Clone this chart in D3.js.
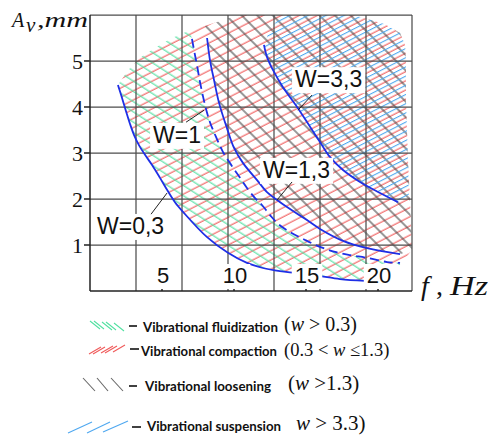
<!DOCTYPE html>
<head>
<meta charset="utf-8">
<title>Vibration modes</title>
<style>
body {
  margin: 0;
  padding: 0;
  background: #fff;
}
.serif { font-family: "Liberation Serif", "DejaVu Serif", serif; }
.sans { font-family: "Liberation Sans", Arial, sans-serif; }
.leg { font-family: Lato, "Open Sans", sans-serif; font-weight: bold; font-size: 14px; }
</style>
</head>
<body>
<svg id="chart" width="488" height="436"></svg>
<script src="https://d3js.org/d3.v7.min.js"></script>
<script>

// axis values
var xMax = 22.36, yMax = 6
var xTicks = [5, 10, 15, 20]
var yTicks = [1, 2, 3, 4, 5]
var xGridCols = 7

// boundary curves, f (Hz) vs A (mm)
var w03 = [[1.94,4.48],[2.22,4.20],[2.50,3.91],[2.78,3.63],[3.06,3.39],[3.40,3.17],[3.82,2.96],[4.31,2.74],[4.86,2.46],[5.35,2.20],[5.90,1.93],[6.46,1.72],[8.13,1.17],[9.58,0.83],[10.90,0.61],[12.01,0.50],[13.19,0.43],[14.24,0.39],[15.83,0.33],[17.36,0.26],[19.10,0.22]]
var w1 = [[7.08,5.48],[7.29,5.13],[7.43,4.91],[7.64,4.54],[7.99,4.04],[8.33,3.67],[8.75,3.35],[9.24,3.02],[9.72,2.78],[10.42,2.46],[10.90,2.24],[11.46,2.02],[11.94,1.87],[12.50,1.65],[13.06,1.46],[13.89,1.28],[14.93,1.11],[15.97,0.96],[17.01,0.85],[18.06,0.78],[19.24,0.72],[20.63,0.63],[21.53,0.61]]
var w13 = [[8.13,5.50],[8.33,5.02],[8.61,4.59],[8.96,4.09],[9.51,3.54],[10.0,3.11],[10.63,2.78],[11.60,2.41],[12.29,2.15],[12.99,1.98],[13.89,1.78],[14.93,1.57],[15.97,1.35],[17.57,1.09],[19.24,0.93],[21.53,0.80]]
var w33 = [[12.08,5.35],[12.29,5.09],[12.71,4.80],[13.40,4.43],[14.38,4.00],[15.28,3.57],[15.97,3.24],[16.67,2.91],[17.57,2.63],[18.75,2.37],[20.14,2.13],[21.39,1.93]]

// outer edge of the hatched area, from the start of W=0.3 round to its end
var envelope = [[1.94,4.48],[2.64,4.80],[3.47,5.07],[4.51,5.28],[5.69,5.50],[6.94,5.67],[8.33,5.80],[9.93,5.96],[11.11,6.07],[17.36,6.07],[19.10,5.93],[20.49,5.80],[21.53,5.61],[21.88,5.35],[21.94,5.02],[21.94,4.15],[22.08,2.85],[22.22,1.98],[22.36,0.89],[21.53,0.57],[20.49,0.39],[19.10,0.22]]

var curveLabels = [
  { text: 'W=1',   x: 4.38,  y: 3.22, from: [6.67, 3.67],  to: [7.92, 3.93] },
  { text: 'W=3,3', x: 14.24, y: 4.43, from: [15.42, 4.26], to: [14.44, 3.93] },
  { text: 'W=1,3', x: 12.01, y: 2.46, from: [14.03, 2.37], to: [12.99, 1.98] },
  { text: 'W=0,3', x: 0.49,  y: 1.24, from: [4.24, 1.67],  to: [5.35, 2.13] }
]

var svg = d3.select('#chart')
var x = d3.scaleLinear().domain([0, xMax]).range([90, 412])
var y = d3.scaleLinear().domain([0, yMax]).range([291, 15])

var defs = svg.append('defs')

function hatch(id, color, angle, gap, off) {
  var p = defs.append('pattern')
    .attr('id', id)
    .attr('patternUnits', 'userSpaceOnUse')
    .attr('width', 20).attr('height', gap)
    .attr('patternTransform', 'rotate(' + angle + ')')
  p.append('line')
    .attr('x1', 0).attr('x2', 20)
    .attr('y1', off).attr('y2', off)
    .attr('stroke', color).attr('stroke-width', 1.1)
}
hatch('h-red', '#f05a5a', -27, 8.2, 2)
hatch('h-green', '#4fe0a0', 33, 8.6, 4)
hatch('h-black', '#444', 45, 11, 5)
hatch('h-blue', '#4fa8f0', -27, 8.2, 6)

defs.append('clipPath').attr('id', 'frame')
  .append('rect')
  .attr('x', x(0)).attr('y', y(yMax))
  .attr('width', x(xMax) - x(0)).attr('height', y(0) - y(yMax))

var poly = d3.line().x(function(d) { return x(d[0]) }).y(function(d) { return y(d[1]) })
function rev(a) { return a.slice().reverse() }
function pick(idx) { return idx.map(function(i) { return envelope[i] }) }

var regions = [
  { fill: 'h-red',   pts: envelope.concat(rev(w03)) },
  { fill: 'h-green', pts: w03.concat(pick([20, 19]), rev(w1), pick([5, 4, 3, 2, 1])) },
  { fill: 'h-black', pts: w13.concat(pick([18, 17, 16, 15, 14, 13, 12, 11, 10, 9, 8, 7]), [[8.0, 5.76]]) },
  { fill: 'h-blue',  pts: w33.concat([[22.15, 2.1]], pick([16, 15, 14, 13, 12, 11, 10, 9]), [[13.54, 6.07], [12.5, 5.7]]) }
]

var hatchG = svg.append('g').attr('clip-path', 'url(#frame)')
hatchG.selectAll('path')
  .data(regions)
  .enter().append('path')
    .attr('d', function(d) { return poly(d.pts) + 'Z' })
    .attr('fill', function(d) { return 'url(#' + d.fill + ')' })
    .attr('stroke', 'none')

// grid
var grid = svg.append('g').attr('stroke', '#4d4d4d').attr('stroke-width', 1.25)
grid.selectAll('.gx')
  .data(d3.range(1, xGridCols + 1))
  .enter().append('line')
    .attr('x1', function(i) { return x(xMax * i / xGridCols) })
    .attr('x2', function(i) { return x(xMax * i / xGridCols) })
    .attr('y1', y(0)).attr('y2', y(yMax))
grid.selectAll('.gy')
  .data(d3.range(1, yMax + 1))
  .enter().append('line')
    .attr('x1', x(0)).attr('x2', x(xMax))
    .attr('y1', function(d) { return y(d) })
    .attr('y2', function(d) { return y(d) })

// curves
var smooth = d3.line()
  .x(function(d) { return x(d[0]) })
  .y(function(d) { return y(d[1]) })
  .curve(d3.curveCatmullRom)

var curves = [
  { pts: w03, dash: null },
  { pts: w1, dash: '9,5' },
  { pts: w13, dash: null },
  { pts: w33, dash: null }
]
svg.append('g').selectAll('path')
  .data(curves)
  .enter().append('path')
    .attr('d', function(d) { return smooth(d.pts) })
    .attr('fill', 'none')
    .attr('stroke', '#1e2fe6')
    .attr('stroke-width', 1.8)
    .attr('stroke-dasharray', function(d) { return d.dash })

// axes
var ax = svg.append('g').attr('stroke', '#222').attr('stroke-width', 1.5)
ax.append('line').attr('x1', x(0)).attr('x2', x(0)).attr('y1', y(0)).attr('y2', y(yMax))
ax.append('line').attr('x1', x(0)).attr('x2', x(xMax)).attr('y1', y(0)).attr('y2', y(0))
ax.selectAll('.ty')
  .data(yTicks)
  .enter().append('line')
    .attr('x1', x(0) - 6).attr('x2', x(0))
    .attr('y1', function(d) { return y(d) }).attr('y2', function(d) { return y(d) })
ax.selectAll('.tx')
  .data(xTicks)
  .enter().append('line')
    .attr('x1', function(d) { return x(d) }).attr('x2', function(d) { return x(d) })
    .attr('y1', y(0) - 5).attr('y2', y(0))

svg.append('g').selectAll('text')
  .data(yTicks)
  .enter().append('text')
    .attr('class', 'serif')
    .attr('x', x(0) - 7)
    .attr('y', function(d) { return y(d) + 8 })
    .attr('text-anchor', 'end')
    .attr('font-size', 22)
    .attr('fill', '#111')
    .text(function(d) { return d })

// labels with white boxes
function boxed(g, sel) {
  sel.each(function() {
    var b = this.getBBox()
    g.insert('rect', 'text')
      .attr('x', b.x - 3).attr('y', b.y + 1)
      .attr('width', b.width + 6).attr('height', b.height)
      .attr('fill', '#fff')
  })
}

var xl = svg.append('g')
var xt = xl.selectAll('text')
  .data(xTicks)
  .enter().append('text')
    .attr('class', 'sans')
    .attr('x', function(d) { return x(d) + 1 })
    .attr('y', y(0) - 8)
    .attr('text-anchor', 'middle')
    .attr('font-size', 22)
    .attr('fill', '#111')
    .text(function(d) { return d })
boxed(xl, xt)

var lg = svg.append('g')
var lt = lg.selectAll('text')
  .data(curveLabels)
  .enter().append('text')
    .attr('class', 'sans')
    .attr('x', function(d) { return x(d.x) })
    .attr('y', function(d) { return y(d.y) })
    .attr('font-size', 23)
    .attr('fill', '#111')
    .text(function(d) { return d.text })
boxed(lg, lt)
lg.selectAll('line')
  .data(curveLabels)
  .enter().append('line')
    .attr('x1', function(d) { return x(d.from[0]) }).attr('y1', function(d) { return y(d.from[1]) })
    .attr('x2', function(d) { return x(d.to[0]) }).attr('y2', function(d) { return y(d.to[1]) })
    .attr('stroke', '#222').attr('stroke-width', 1)

// axis titles
var tt = svg.append('g').attr('class', 'serif').attr('font-style', 'italic').attr('fill', '#111')
tt.append('text').attr('x', 12).attr('y', 27).attr('font-size', 20).text('A')
tt.append('text').attr('x', 26).attr('y', 32).attr('font-size', 21).text('v')
tt.append('text').attr('x', 37).attr('y', 27).attr('font-size', 22)
  .attr('textLength', 51).attr('lengthAdjust', 'spacingAndGlyphs').text(',mm')
tt.append('text').attr('x', 421).attr('y', 295).attr('font-size', 28).text('f')
tt.append('text').attr('x', 436).attr('y', 295).attr('font-size', 28).attr('font-style', 'normal').text(',')
tt.append('text').attr('x', 450).attr('y', 295).attr('font-size', 27)
  .attr('textLength', 38).attr('lengthAdjust', 'spacingAndGlyphs').text('Hz')

// legend
var legend = [
  { name: 'Vibrational fluidization', math: ['(', 'w', ' > 0.3)'], color: '#4fe0a0' },
  { name: 'Vibrational compaction', math: ['(0.3 < ', 'w', ' \u22641.3)'], color: '#f05a5a' },
  { name: 'Vibrational loosening', math: ['(', 'w', ' >1.3)'], color: '#666' },
  { name: 'Vibrational suspension', math: ['', 'w', ' > 3.3)'], color: '#4fa8f0' }
]
var legPos = [
  { tx: 143, tl: 135, base: 332, dash: [129, 137, 326], mx: 284, fs: 20, mb: 331 },
  { tx: 141, tl: 136, base: 356, dash: [130, 139, 349], mx: 284, fs: 18.5, mb: 356 },
  { tx: 145, tl: 126, base: 391, dash: [129, 137, 386], mx: 288, fs: 21, mb: 390 },
  { tx: 147, tl: 134, base: 431, dash: [132, 141, 427], mx: 296, fs: 21, mb: 430 }
]
var samples = [
  [[90,321,100,329],[94,321,104,329],[102,322,112,330],[106,322,116,330],[114,323,124,331]],
  [[89,354,101,347],[93,354,105,347],[101,353,113,346],[105,353,117,346],[113,352,125,345]],
  [[83,378,95,391],[97,378,108,391],[111,378,123,391]],
  [[68,433,92,422],[87,433,110,422],[103,432,128,421]]
]

legend.forEach(function(d, i) {
  var p = legPos[i]
  var g = svg.append('g')
  g.selectAll('line.s')
    .data(samples[i])
    .enter().append('line')
      .attr('x1', function(s) { return s[0] }).attr('y1', function(s) { return s[1] })
      .attr('x2', function(s) { return s[2] }).attr('y2', function(s) { return s[3] })
      .attr('stroke', d.color).attr('stroke-width', 1.1)
  g.append('line')
    .attr('x1', p.dash[0]).attr('x2', p.dash[1])
    .attr('y1', p.dash[2]).attr('y2', p.dash[2])
    .attr('stroke', '#111').attr('stroke-width', 1.6)
  g.append('text')
    .attr('class', 'leg')
    .attr('x', p.tx).attr('y', p.base)
    .attr('textLength', p.tl).attr('lengthAdjust', 'spacingAndGlyphs')
    .attr('fill', '#111')
    .text(d.name)
  var m = g.append('text')
    .attr('class', 'serif')
    .attr('x', p.mx).attr('y', p.mb)
    .attr('font-size', p.fs)
    .attr('fill', '#111')
  m.append('tspan').text(d.math[0])
  m.append('tspan').attr('font-style', 'italic').text(d.math[1])
  m.append('tspan').text(d.math[2])
})

</script>
</body>
</html>
